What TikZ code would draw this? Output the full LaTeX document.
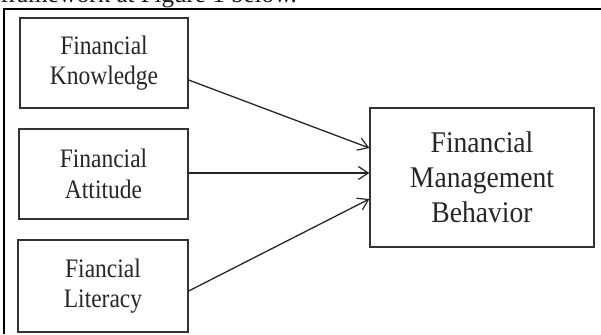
\documentclass[tikz,border=0pt]{standalone}
\usepackage{fontspec}
\setmainfont{Liberation Serif}
\newfontfamily\boxfont[FakeStretch=0.88]{Liberation Serif}
\newfontfamily\bigfont[FakeStretch=0.92]{Liberation Serif}
\usetikzlibrary{arrows.meta}
\begin{document}
\begin{tikzpicture}[x=1pt,y=-1pt,
  box/.style={draw=black!80, line width=1.3pt, inner sep=0pt, align=center, text=black!85,
    font=\boxfont\fontsize{26.7}{30.7}\selectfont},
  bigbox/.style={box, font=\bigfont\fontsize{30}{35}\selectfont},
  link/.style={draw=black!85, line width=1.3pt,
    -{Straight Barb[length=10pt,width=13pt,line width=1.2pt]}},
  frame/.style={draw=black, line width=1.3pt}
]
\useasboundingbox (0,0) rectangle (601,334);
\clip (0,0) rectangle (601,334);
\node[anchor=base east, inner sep=0pt, text=black!90,
  font=\fontsize{25}{30}\selectfont] (cap) at (297,3) {framework at Figure 1 below.};
\coordinate (fb) at (4,334);
\coordinate (ft) at (4,9);
\coordinate (fr) at (601,9);
\draw[frame] (fb) -- (ft) -- (fr);

\node[box, minimum width=168pt, minimum height=90pt] (k) at (104,63) {Financial\\Knowledge};
\node[box, minimum width=169pt, minimum height=90pt] (a) at (103.5,174) {Financial\\Attitude};
\node[box, minimum width=170pt, minimum height=92pt] (l) at (103,286) {Fiancial\\Literacy};
\node[bigbox, minimum width=224pt, minimum height=139pt] (b) at (482,177.5) {Financial\\Management\\Behavior};

\draw[link] ([yshift=-17pt]k.east) -- ([yshift=29.5pt]b.west);
\draw[link] ([yshift=1pt]a.east) -- ([yshift=4.5pt]b.west);
\draw[link] ([yshift=-5pt]l.east) -- ([yshift=-21.5pt]b.west);
\end{tikzpicture}
\end{document}
